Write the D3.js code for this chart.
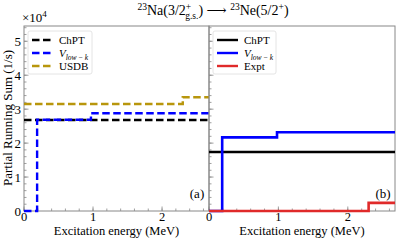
<!DOCTYPE html>
<html><head><meta charset="utf-8">
<script src="https://cdn.jsdelivr.net/npm/d3@7"></script>
<style>body{margin:0;background:#fff}svg{display:block}</style>
</head><body><svg id="c" width="398" height="240" font-family="'Liberation Serif', 'Times New Roman', 'DejaVu Serif', serif"></svg>
<script>
// Data (partial running sum in units of 1e4 1/s vs excitation energy MeV)
const xMax = 2.68, yMax = 5.45;
const leftChptE = [0, 2.68], leftChptS = [2.68, 2.68];
const leftVlowkE = [0, 0.19, 0.97, 2.68], leftVlowkS = [0, 2.69, 2.88, 2.88];
const leftUsdbE = [0, 2.3, 2.68], leftUsdbS = [3.15, 3.35, 3.35];
const rightChptE = [0, 2.68], rightChptS = [1.74, 1.74];
const rightVlowkE = [0, 0.19, 0.98, 2.68], rightVlowkS = [0, 2.17, 2.32, 2.32];
const rightExptE = [0, 2.3, 2.68], rightExptS = [0, 0.24, 0.24];
const yTicks = [0, 1, 2, 3, 4, 5];
const xTicks = [0, 1, 2];
const legendLeft = ["ChPT", "V_low-k", "USDB"];
const legendRight = ["ChPT", "V_low-k", "Expt"];
const colors = {chpt:"#000000", vlowk:"#0000ff", usdb:"#b8960c", expt:"#e02a2a"};

const svg = d3.select("#c");
const plotTop = 26, plotBottom = 211;
const y = d3.scaleLinear().domain([0, yMax]).range([plotBottom, plotTop]);
const panels = [
  {x0: 24, x1: 209, label: "(a)", dashed: true,
   series: [[leftChptE, leftChptS, colors.chpt], [leftVlowkE, leftVlowkS, colors.vlowk], [leftUsdbE, leftUsdbS, colors.usdb]],
   legend: legendLeft, legendColors: [colors.chpt, colors.vlowk, colors.usdb]},
  {x0: 209, x1: 395, label: "(b)", dashed: false,
   series: [[rightChptE, rightChptS, colors.chpt], [rightVlowkE, rightVlowkS, colors.vlowk], [rightExptE, rightExptS, colors.expt]],
   legend: legendRight, legendColors: [colors.chpt, colors.vlowk, colors.expt]}
];

panels.forEach((p, i) => {
  const x = d3.scaleLinear().domain([0, xMax]).range([p.x0, p.x1]);
  const g = svg.append("g");
  const yMinor = d3.range(0, yMax, 0.2);
  const xMinor = d3.range(0, xMax, 0.2);
  g.selectAll(".ym").data(yMinor).join("line")
    .attr("x1", p.x0).attr("x2", p.x0 + 2.5).attr("y1", d => y(d)).attr("y2", d => y(d))
    .attr("stroke", "#888").attr("stroke-width", 0.8);
  g.selectAll(".yM").data(yTicks).join("line")
    .attr("x1", p.x0).attr("x2", p.x0 + 4.5).attr("y1", d => y(d)).attr("y2", d => y(d))
    .attr("stroke", "#888").attr("stroke-width", 0.8);
  g.selectAll(".xm").data(xMinor).join("line")
    .attr("x1", d => x(d)).attr("x2", d => x(d)).attr("y1", plotBottom).attr("y2", plotBottom - 2.5)
    .attr("stroke", "#888").attr("stroke-width", 0.8);
  g.selectAll(".xM").data(xTicks).join("line")
    .attr("x1", d => x(d)).attr("x2", d => x(d)).attr("y1", plotBottom).attr("y2", plotBottom - 4.5)
    .attr("stroke", "#888").attr("stroke-width", 0.8);
  g.append("rect").attr("x", p.x0).attr("y", plotTop).attr("width", p.x1 - p.x0).attr("height", plotBottom - plotTop)
    .attr("fill", "none").attr("stroke", "#888").attr("stroke-width", 1);
  g.selectAll(".xl").data(xTicks).join("text")
    .attr("x", d => x(d)).attr("y", plotBottom + 9.5).attr("text-anchor", "middle")
    .attr("font-size", 12.5).text(d => d);
  if (i === 0) {
    g.selectAll(".yl").data(yTicks).join("text")
      .attr("x", p.x0 - 3).attr("y", d => y(d) + 4.5).attr("text-anchor", "end")
      .attr("font-size", 13).text(d => d);
  }
  g.append("text").attr("x", (p.x0 + p.x1) / 2).attr("y", 235).attr("text-anchor", "middle")
    .attr("font-size", 12.5).text("Excitation energy (MeV)");
  const line = d3.line().x(d => x(d[0])).y(d => y(d[1])).curve(d3.curveStepAfter);
  p.series.forEach(([E, S, col]) => {
    g.append("path").datum(E.map((e, k) => [e, S[k]])).attr("d", line)
      .attr("fill", "none").attr("stroke", col).attr("stroke-width", p.dashed ? 2.4 : 2.6)
      .attr("stroke-dasharray", p.dashed ? "7.5,3.5" : null);
  });
  g.append("text").attr("x", p.x1 - 12).attr("y", 198).attr("text-anchor", "middle")
    .attr("font-size", 13).text(p.label);
  const lx = p.x0 + 4, ly = 31;
  g.append("rect").attr("x", lx).attr("y", ly).attr("width", i === 0 ? 64 : 63).attr("height", 43)
    .attr("rx", 2).attr("fill", "#fff").attr("stroke", "#ddd").attr("stroke-width", 0.8);
  p.legend.forEach((name, k) => {
    const yy = ly + 9 + k * 13;
    g.append("line").attr("x1", lx + 4).attr("x2", lx + 25).attr("y1", yy).attr("y2", yy)
      .attr("stroke", p.legendColors[k]).attr("stroke-width", 2.4)
      .attr("stroke-dasharray", p.dashed ? "7.5,3.5" : null);
    const t = g.append("text").attr("x", lx + 31).attr("y", yy + 4).attr("font-size", 11);
    if (name === "V_low-k") {
      t.append("tspan").attr("font-style", "italic").text("V");
      t.append("tspan").attr("font-size", 7.5).attr("dy", 2.5).attr("font-style", "italic").text("low\u2009\u2212\u2009k");
    } else t.text(name);
  });
});

svg.append("text").attr("transform", "translate(12,118) rotate(-90)").attr("text-anchor", "middle")
  .attr("font-size", 13).text("Partial Running Sum (1/s)");
const mult = svg.append("text").attr("x", 22).attr("y", 22).attr("font-size", 13);
mult.append("tspan").text("\u00d710");
mult.append("tspan").attr("font-size", 9).attr("dy", -5).text("4");
const title = svg.append("text").attr("x", 213).attr("y", 15).attr("text-anchor", "middle").attr("font-size", 14);
title.append("tspan").attr("font-size", 9.5).attr("dy", -5).text("23");
title.append("tspan").attr("dy", 5).text("Na(3/2");
title.append("tspan").attr("font-size", 9.5).attr("dy", -5).text("+");
title.append("tspan").attr("font-size", 9.5).attr("dx", -6).attr("dy", 9).text("g.s.");
title.append("tspan").attr("dy", -4).text(") \u27f6 ");
title.append("tspan").attr("font-size", 9.5).attr("dy", -5).text("23");
title.append("tspan").attr("dy", 5).text("Ne(5/2");
title.append("tspan").attr("font-size", 9.5).attr("dy", -5).text("+");
title.append("tspan").attr("dy", 5).text(")");
</script></body></html>
